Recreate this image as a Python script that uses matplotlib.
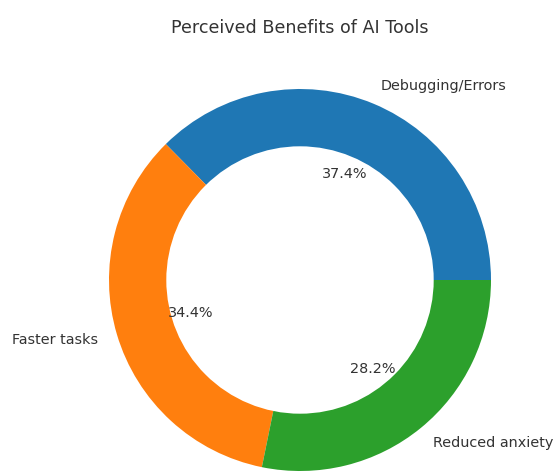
import matplotlib.pyplot as plt

labels = ['Debugging/Errors', 'Faster tasks', 'Reduced anxiety']
shares = [37.4, 34.4, 28.2]
colors = ['#1f77b4', '#ff7f0e', '#2ca02c']

fig = plt.figure(figsize=(5.6, 4.72), dpi=100)
ax = fig.add_axes([0, 0, 1, 1])

ax.pie(shares, labels=labels, colors=colors, autopct='%1.1f%%',
       textprops={'fontsize': 10.4, 'color': '#333333'})

# white disc in the middle turns the pie into a donut
centre_circle = plt.Circle((0, 0), 0.7, fc='white')
ax.add_artist(centre_circle)

# place the donut: centre at (300, 280) px, radius 191 px
scale = 191
ax.set_xlim(-300 / scale, (560 - 300) / scale)
ax.set_ylim(-(472 - 280) / scale, 280 / scale)
ax.set_aspect('auto')

fig.text(300 / 560, 1 - 28 / 472, 'Perceived Benefits of AI Tools',
         ha='center', va='center', fontsize=12.6, color='#333333')

fig.savefig('out.png', dpi=100)
